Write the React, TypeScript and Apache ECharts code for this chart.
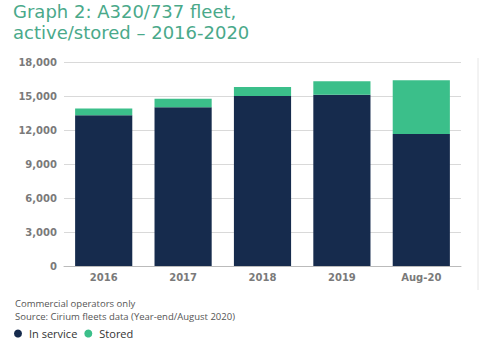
import React, { useEffect, useRef } from "react";
import * as echarts from "echarts";

const categories = ["2016", "2017", "2018", "2019", "Aug-20"];
const inService = [13300, 14000, 15000, 15100, 11650];
const stored = [600, 750, 800, 1200, 4750];
const yTicks = [0, 3000, 6000, 9000, 12000, 15000, 18000];

export default function App() {
  const ref = useRef<HTMLDivElement>(null);
  useEffect(() => {
    const chart = echarts.init(ref.current!, null, { renderer: "svg" });
    chart.setOption({
      animation: false,
      backgroundColor: "#ffffff",
      textStyle: { fontFamily: "'DejaVu Sans', sans-serif" },
      title: {
        text: "Graph 2: A320/737 fleet,\nactive/stored – 2016-2020",
        left: 13,
        top: 1,
        padding: 0,
        textStyle: {
          fontSize: 18,
          lineHeight: 21,
          fontWeight: "normal",
          color: "#4aa98a",
          fontFamily: "'DejaVu Sans', sans-serif",
        },
      },
      legend: {
        left: 14,
        top: 328,
        padding: 0,
        icon: "circle",
        itemWidth: 8,
        itemHeight: 8,
        itemGap: 7,
        textStyle: {
          fontSize: 11,
          color: "#333",
          padding: [0, 0, 0, 2],
          fontFamily: "'Open Sans', sans-serif",
        },
        data: ["In service", "Stored"],
      },
      graphic: [
        {
          type: "text",
          left: 15,
          top: 297,
          style: {
            text: "Commercial operators only\nSource: Cirium fleets data (Year-end/August 2020)",
            fontSize: 9.5,
            lineHeight: 13,
            fill: "#555",
            fontFamily: "'Open Sans', sans-serif",
          },
        },
        {
          type: "line",
          shape: { x1: 478, y1: 58, x2: 478, y2: 290 },
          style: { stroke: "#e6e6e6", lineWidth: 1 },
        },
      ],
      grid: { left: 64, right: 19, top: 62, bottom: 86 },
      xAxis: {
        type: "category",
        data: categories,
        axisTick: { show: false },
        axisLine: { lineStyle: { color: "#bbbbbb" } },
        axisLabel: { color: "#7a7a7a", fontSize: 10, fontWeight: "bold", margin: 6 },
      },
      yAxis: {
        type: "value",
        min: yTicks[0],
        max: yTicks[yTicks.length - 1],
        interval: 3000,
        axisLine: { show: false },
        axisTick: { show: false },
        splitLine: { lineStyle: { color: "#d9d9d9" } },
        axisLabel: {
          color: "#7a7a7a",
          fontSize: 10,
          fontWeight: "bold",
          margin: 7,
          formatter: (v: number) => v.toLocaleString("en-US"),
        },
      },
      series: [
        {
          name: "In service",
          type: "bar",
          stack: "total",
          barWidth: "72%",
          data: inService,
          itemStyle: { color: "#162b4d" },
        },
        {
          name: "Stored",
          type: "bar",
          stack: "total",
          barWidth: "72%",
          data: stored,
          itemStyle: { color: "#3bbf8a" },
        },
      ],
    });
    return () => chart.dispose();
  }, []);
  return (
    <div
      ref={ref}
      style={{ position: "fixed", left: 0, top: 0, width: 480, height: 352 }}
    />
  );
}
